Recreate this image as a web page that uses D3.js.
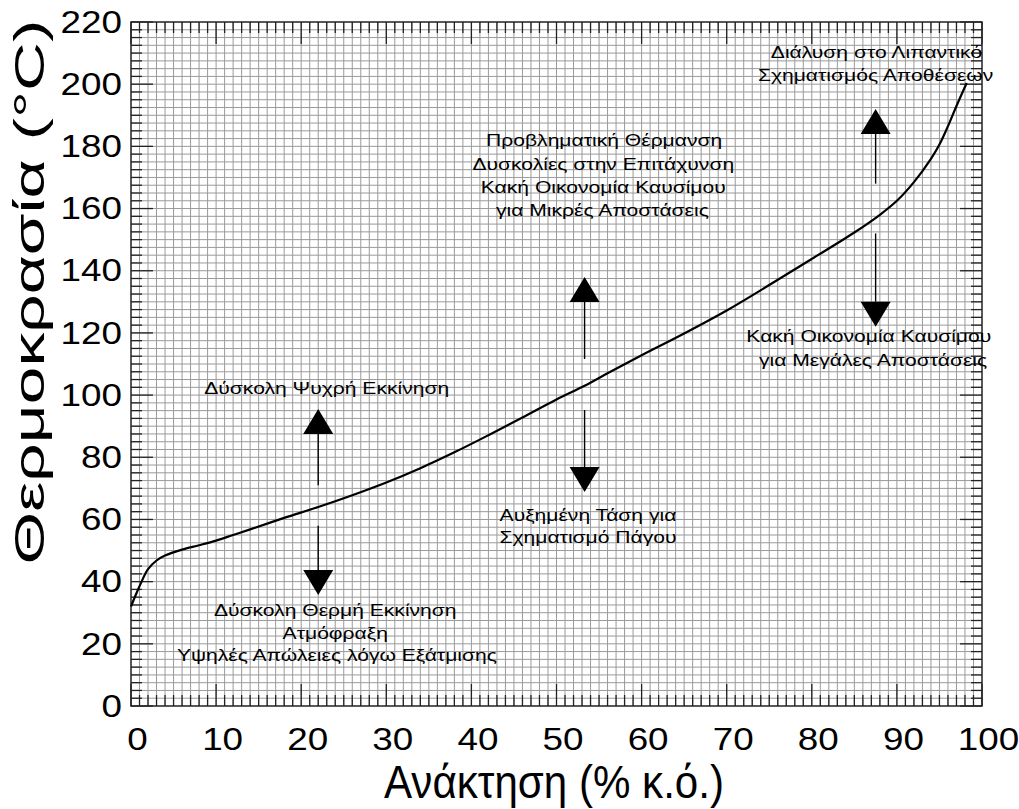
<!DOCTYPE html>
<html>
<head>
<meta charset="utf-8">
<script src="https://cdn.jsdelivr.net/npm/d3@7"></script>
<style>
  body { margin: 0; background: #fff; }
  svg { display: block; font-family: "Liberation Sans", Arial, sans-serif; }
</style>
</head>
<body>
<svg id="chart" width="1019" height="809"></svg>
<script>
// curve: recovery (% vol) vs temperature
const recovery = [0, 1, 2, 3, 4, 6, 8, 10, 12, 14, 18, 22, 26, 30, 34, 38, 42, 46, 50, 53.3, 56, 60, 65, 70, 75, 80, 85, 88, 90, 92, 94, 95, 96, 97, 98.2];
const temperature = [32, 38.5, 44, 46.8, 48.4, 50.3, 51.7, 53.2, 55, 56.8, 60.5, 64, 67.8, 71.9, 76.5, 81.6, 87.1, 92.8, 98.6, 103, 107, 112.8, 119.8, 127.2, 135.4, 143.8, 152.3, 158, 162.5, 168.5, 176, 180.6, 186.5, 193, 200.4];

const xTicks = [0, 10, 20, 30, 40, 50, 60, 70, 80, 90, 100];
const yTicks = [0, 20, 40, 60, 80, 100, 120, 140, 160, 180, 200, 220];

// arrows: x position, tail temp, tip temp
const arrowX = [22, 22, 53.3, 53.3, 87.5, 87.5];
const arrowFrom = [71, 58, 111.6, 95.2, 168, 152];
const arrowTo = [95.5, 35.7, 138, 68.8, 192, 122];

// annotations
const noteX = [23, 24, 24, 24.2, 55.6, 55.5, 55.5, 55.4, 53.7, 53.7, 86.7, 87.2, 87.6, 87.5];
const noteY = [100.5, 29, 21.5, 14.5, 180, 172.5, 165, 157.5, 59.5, 52.5, 117, 109.5, 208.5, 201];
const noteText = [
  'Δύσκολη Ψυχρή Εκκίνηση',
  'Δύσκολη Θερμή Εκκίνηση',
  'Ατμόφραξη',
  'Υψηλές Απώλειες λόγω Εξάτμισης',
  'Προβληματική Θέρμανση',
  'Δυσκολίες στην Επιτάχυνση',
  'Κακή Οικονομία Καυσίμου',
  'για Μικρές Αποστάσεις',
  'Αυξημένη Τάση για',
  'Σχηματισμό Πάγου',
  'Κακή Οικονομία Καυσίμου',
  'για Μεγάλες Αποστάσεις',
  'Διάλυση στο Λιπαντικό',
  'Σχηματισμός Αποθέσεων'
];

const margin = { left: 131, top: 22, right: 37, bottom: 103 };
const W = 1019, H = 809;
const innerW = W - margin.left - margin.right;
const innerH = H - margin.top - margin.bottom;

const svg = d3.select('#chart');
const g = svg.append('g')
  .attr('transform', `translate(${margin.left},${margin.top})`);

const x = d3.scaleLinear().domain([0, 100]).range([0, innerW]);
const y = d3.scaleLinear().domain([0, 220]).range([innerH, 0]);

// stretch text horizontally to match the wide lettering of the original
const stretch = (sel, k) => sel.each(function () {
  const len = this.getComputedTextLength();
  d3.select(this).attr('textLength', len * k).attr('lengthAdjust', 'spacingAndGlyphs');
});

// minor grid
g.append('g').selectAll('line')
  .data(d3.range(1, 100))
  .join('line')
  .attr('x1', d => x(d)).attr('x2', d => x(d))
  .attr('y1', 0).attr('y2', innerH)
  .attr('stroke', '#9a9a9a').attr('stroke-width', 1);

g.append('g').selectAll('line')
  .data(d3.range(2.5, 220, 2.5))
  .join('line')
  .attr('y1', d => y(d)).attr('y2', d => y(d))
  .attr('x1', 0).attr('x2', innerW)
  .attr('stroke', '#9a9a9a').attr('stroke-width', 1);

// inner ticks on all four sides
const xMinor = d3.range(0, 101);
const yMinor = d3.range(0, 221, 2.5);
const tickLen = v => (v % 10 === 0 ? 22 : 11);
const yTickLen = v => (v % 20 === 0 ? 22 : 11);

const ticks = g.append('g').attr('stroke', '#222').attr('stroke-width', 1.3);
ticks.selectAll('.tt').data(xMinor).join('line').attr('class', 'tt')
  .attr('x1', d => x(d)).attr('x2', d => x(d))
  .attr('y1', 0).attr('y2', d => tickLen(d));
ticks.selectAll('.tb').data(xMinor).join('line').attr('class', 'tb')
  .attr('x1', d => x(d)).attr('x2', d => x(d))
  .attr('y1', innerH).attr('y2', d => innerH - tickLen(d));
ticks.selectAll('.tl').data(yMinor).join('line').attr('class', 'tl')
  .attr('y1', d => y(d)).attr('y2', d => y(d))
  .attr('x1', 0).attr('x2', d => yTickLen(d));
ticks.selectAll('.tr').data(yMinor).join('line').attr('class', 'tr')
  .attr('y1', d => y(d)).attr('y2', d => y(d))
  .attr('x1', innerW).attr('x2', d => innerW - yTickLen(d));

// frame
g.append('rect')
  .attr('width', innerW).attr('height', innerH)
  .attr('fill', 'none').attr('stroke', '#222').attr('stroke-width', 1.5);

// tick labels via d3 axes, tick lines hidden
const xAxis = d3.axisBottom(x).tickValues(xTicks).tickSize(0).tickPadding(21);
const yAxis = d3.axisLeft(y).tickValues(yTicks).tickSize(0).tickPadding(9);

const xa = g.append('g').attr('transform', `translate(6,${innerH})`).call(xAxis);
const ya = g.append('g').call(yAxis);
[xa, ya].forEach(a => {
  a.select('.domain').remove();
  a.selectAll('text')
    .attr('font-family', '"Liberation Sans", Arial, sans-serif')
    .attr('font-size', 32)
    .attr('fill', '#000')
    .call(stretch, 1.15);
});

// curve
const pts = recovery.map((r, i) => [r, temperature[i]]);
g.append('path')
  .datum(pts)
  .attr('fill', 'none')
  .attr('stroke', '#000')
  .attr('stroke-width', 2.2)
  .attr('d', d3.line().x(d => x(d[0])).y(d => y(d[1])).curve(d3.curveCatmullRom.alpha(0.5)));

// arrows
const arrows = g.append('g');
arrowX.forEach((ax, i) => {
  const x0 = x(ax);
  const yFrom = y(arrowFrom[i]);
  const yTip = y(arrowTo[i]);
  const dir = yTip < yFrom ? -1 : 1;
  const headLen = 25, headHalf = 15;
  const yBase = yTip - dir * headLen;
  arrows.append('line')
    .attr('x1', x0).attr('x2', x0)
    .attr('y1', yFrom).attr('y2', yBase)
    .attr('stroke', '#000').attr('stroke-width', 1.4);
  arrows.append('path')
    .attr('d', `M${x0},${yTip}L${x0 - headHalf},${yBase}L${x0 + headHalf},${yBase}Z`)
    .attr('fill', '#000');
});

// annotations
g.append('g').selectAll('text')
  .data(noteText)
  .join('text')
  .attr('x', (d, i) => x(noteX[i]))
  .attr('y', (d, i) => y(noteY[i]))
  .attr('text-anchor', 'middle')
  .attr('font-size', 17)
  .attr('fill', '#000')
  .text(d => d)
  .call(stretch, 1.24);

// axis titles
svg.append('text')
  .attr('x', 554)
  .attr('y', 798)
  .attr('text-anchor', 'middle')
  .attr('font-size', 46)
  .attr('textLength', 340)
  .attr('lengthAdjust', 'spacingAndGlyphs')
  .text('Ανάκτηση (% κ.ό.)');

svg.append('text')
  .attr('transform', 'translate(44,292) rotate(-90)')
  .attr('text-anchor', 'middle')
  .attr('font-size', 43)
  .attr('textLength', 545)
  .attr('lengthAdjust', 'spacingAndGlyphs')
  .text('Θερμοκρασία (°C)');
</script>
</body>
</html>
